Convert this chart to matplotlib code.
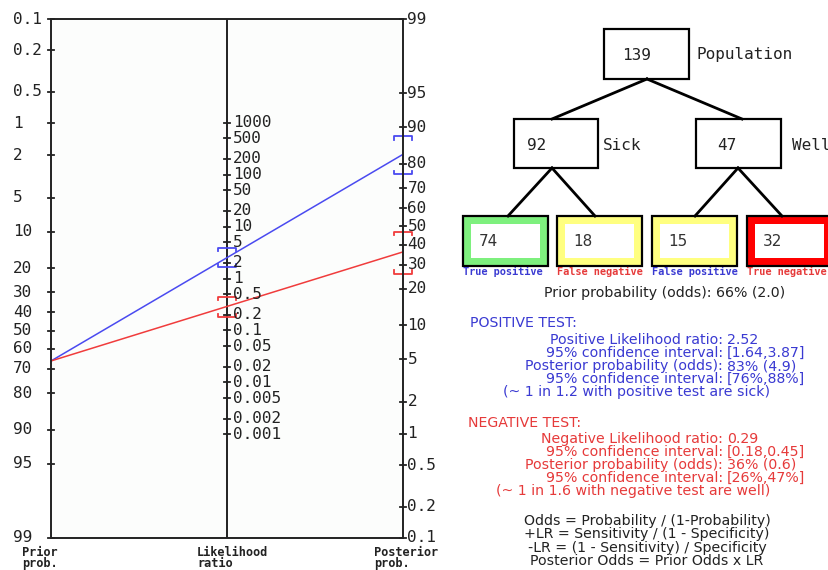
import numpy as np
import matplotlib
matplotlib.use("Agg")
import matplotlib.pyplot as plt
from matplotlib.patches import Rectangle

# ---------------- data ----------------
prob_ticks = [0.1, 0.2, 0.5, 1, 2, 5, 10, 20, 30, 40, 50, 60, 70, 80, 90, 95, 99]
prob_labels = ["0.1", "0.2", "0.5", "1", "2", "5", "10", "20", "30", "40",
               "50", "60", "70", "80", "90", "95", "99"]
lr_ticks = [1000, 500, 200, 100, 50, 20, 10, 5, 2, 1, 0.5, 0.2, 0.1,
            0.05, 0.02, 0.01, 0.005, 0.002, 0.001]
lr_labels = ["1000", "500", "200", "100", "50", "20", "10", "5", "2", "1",
             "0.5", "0.2", "0.1", "0.05", "0.02", "0.01", "0.005", "0.002", "0.001"]

population = 139
sick = 92
well = 47
leaf_counts = [74, 18, 15, 32]
leaf_names = ["True positive", "False negative", "False positive", "True negative"]

lr_pos = 2.52
lr_pos_ci = [1.64, 3.87]
post_pos_ci = [76, 88]
lr_neg = 0.29
lr_neg_ci = [0.18, 0.45]
post_neg_ci = [26, 47]

prior_line = "Prior probability (odds): 66% (2.0)"
pos_header = "POSITIVE TEST:"
pos_keys = ["Positive Likelihood ratio:", "95% confidence interval:",
            "Posterior probability (odds):", "95% confidence interval:"]
pos_vals = ["2.52", "[1.64,3.87]", "83% (4.9)", "[76%,88%]"]
pos_note = "(~ 1 in 1.2 with positive test are sick)"
neg_header = "NEGATIVE TEST:"
neg_keys = ["Negative Likelihood ratio:", "95% confidence interval:",
            "Posterior probability (odds):", "95% confidence interval:"]
neg_vals = ["0.29", "[0.18,0.45]", "36% (0.6)", "[26%,47%]"]
neg_note = "(~ 1 in 1.6 with negative test are well)"
formulas = ["Odds = Probability / (1-Probability)",
            "+LR = Sensitivity / (1 - Specificity)",
            "-LR = (1 - Sensitivity) / Specificity",
            "Posterior Odds = Prior Odds x LR"]

# ---------------- helpers ----------------
def logit(pct):
    p = pct / 100.0
    return np.log(p / (1 - p))

YTOP = logit(0.1)
YBOT = logit(99)
S = YTOP + YBOT           # right axis: y = S - logit(q)

def right_y(pct):
    return S - logit(pct)

def mid_y(lr):
    return (S - np.log(lr)) / 2.0

BLUE_LINE = "#4a4af0"
RED_LINE = "#f03c3c"
BLUE_TXT = "#3a3ad2"
RED_TXT = "#e63a3a"
AXC = "#222222"
MONO = "DejaVu Sans Mono"

fig = plt.figure(figsize=(8.29, 5.70), dpi=100)
fig.patch.set_facecolor("white")

ov = fig.add_axes([0, 0, 1, 1])
ov.set_xlim(0, 829)
ov.set_ylim(570, 0)
ov.axis("off")

# ---------------- nomogram ----------------
ax = fig.add_axes([51 / 829, (570 - 538) / 570, 352 / 829, 519 / 570])
ax.set_xlim(0, 1)
ax.set_ylim(YBOT, YTOP)
ax.set_xticks([])
ax.set_yticks([])
ax.set_facecolor("#fcfdfc")
for sp in ax.spines.values():
    sp.set_color(AXC)
    sp.set_linewidth(1.4)
ax.plot([0.5, 0.5], [YTOP, YBOT], color=AXC, lw=1.4, solid_capstyle="butt")

TFS = 11.5
dx = 3.0 / 352
px_per_unit = 519.0 / (YBOT - YTOP)
for p, lab in zip(prob_ticks, prob_labels):
    y = logit(p)
    ax.plot([-dx, dx], [y, y], color=AXC, lw=1.3, clip_on=False)
    ax.text((13 - 51) / 352, y, lab, ha="left", va="center", family=MONO,
            fontsize=TFS, color=AXC, clip_on=False)
    yr = right_y(p)
    ax.plot([1 - dx, 1 + dx], [yr, yr], color=AXC, lw=1.3, clip_on=False)
    ax.text(1 + 4.5 / 352, yr, lab, ha="left", va="center", family=MONO,
            fontsize=TFS, color=AXC, clip_on=False)

for lr, lab in zip(lr_ticks, lr_labels):
    y = mid_y(lr)
    ax.plot([0.5 - dx, 0.5 + dx], [y, y], color=AXC, lw=1.3)
    ax.text(0.5 + 6 / 352, y, lab, ha="left", va="center", family=MONO,
            fontsize=TFS, color=AXC)

prior_pct = 100.0 * sick / population
prior_odds = sick / well

def post_pct(lr):
    o = prior_odds * lr
    return 100.0 * o / (1 + o)

def bracket(xc, y, up, color):
    hw = 9.0 / 352
    h = 3.2 / px_per_unit
    dy = h if up else -h   # upper bound: hooks point down on screen
    ax.plot([xc - hw, xc - hw, xc + hw, xc + hw], [y + dy, y, y, y + dy],
            color=color, lw=1.3, clip_on=False)

for lr, ci_lr, ci_post, col in [(lr_pos, lr_pos_ci, post_pos_ci, BLUE_LINE),
                                (lr_neg, lr_neg_ci, post_neg_ci, RED_LINE)]:
    ax.plot([0, 1], [logit(prior_pct), right_y(post_pct(lr))], color=col, lw=1.1)
    bracket(0.5, mid_y(ci_lr[1]), True, col)
    bracket(0.5, mid_y(ci_lr[0]), False, col)
    bracket(1.0, right_y(ci_post[1]), True, col)
    bracket(1.0, right_y(ci_post[0]), False, col)

# axis titles under nomogram
for x, t in [(22, "Prior\nprob."), (197, "Likelihood\nratio"), (374, "Posterior\nprob.")]:
    ov.text(x, 546, t, ha="left", va="top", family=MONO, fontsize=8.6,
            fontweight="bold", color=AXC, linespacing=0.78)

# ---------------- tree ----------------
def box(x0, y0, w, h, lw=1.6):
    ov.add_patch(Rectangle((x0, y0), w, h, facecolor="white", edgecolor="black", lw=lw))

LW_TREE = 2.0
ov.plot([647, 552], [79, 119], color="black", lw=LW_TREE)
ov.plot([647, 742], [79, 119], color="black", lw=LW_TREE)
ov.plot([552, 508], [168, 216], color="black", lw=LW_TREE)
ov.plot([552, 595], [168, 216], color="black", lw=LW_TREE)
ov.plot([738, 695], [168, 216], color="black", lw=LW_TREE)
ov.plot([738, 782], [168, 216], color="black", lw=LW_TREE)

box(604, 29, 85, 50)
ov.text(637, 55, str(population), ha="center", va="center", family=MONO,
        fontsize=11.5, color="#222")
ov.text(697, 55, "Population", ha="left", va="center", family=MONO,
        fontsize=11.5, color="#222")

box(514, 119, 84, 49)
ov.text(527, 146, str(sick), ha="left", va="center", family=MONO,
        fontsize=11.5, color="#222")
ov.text(603, 146, "Sick", ha="left", va="center", family=MONO,
        fontsize=11.5, color="#222")

box(696, 119, 85, 49)
ov.text(717, 146, str(well), ha="left", va="center", family=MONO,
        fontsize=11.5, color="#222")
ov.text(792, 146, "Well", ha="left", va="center", family=MONO,
        fontsize=11.5, color="#222")

leaf_x = [463, 557, 652, 747]
leaf_col = ["#7ef07e", "#ffff80", "#ffff80", "#ff0000"]
leaf_txt_col = [BLUE_TXT, RED_TXT, BLUE_TXT, RED_TXT]
for x0, n, name, fc, tc in zip(leaf_x, leaf_counts, leaf_names, leaf_col, leaf_txt_col):
    ov.add_patch(Rectangle((x0, 216), 85, 50, facecolor=fc, edgecolor="black", lw=1.6))
    ov.add_patch(Rectangle((x0 + 8, 224), 69, 34, facecolor="white", edgecolor="none"))
    ov.text(x0 + 16, 241, str(n), ha="left", va="center", family="DejaVu Sans",
            fontsize=11, color="#333")
    ov.text(x0 + 0.5, 272, name, ha="left", va="center", family=MONO,
            fontsize=7.4, fontweight="bold", color=tc)

# ---------------- text block ----------------
FS = 10.2
ov.text(665, 293, prior_line, ha="center", va="center", fontsize=FS, color="#222")

ov.text(470, 323, pos_header, ha="left", va="center", fontsize=FS, color=BLUE_TXT)
ys = [340, 353, 366, 379]
for y, k, v in zip(ys, pos_keys, pos_vals):
    ov.text(723, y, k, ha="right", va="center", fontsize=FS, color=BLUE_TXT)
    ov.text(727, y, v, ha="left", va="center", fontsize=FS, color=BLUE_TXT)
ov.text(637, 392, pos_note, ha="center", va="center", fontsize=FS, color=BLUE_TXT)

ov.text(468, 423, neg_header, ha="left", va="center", fontsize=FS, color=RED_TXT)
ys = [439, 452, 465, 478]
for y, k, v in zip(ys, neg_keys, neg_vals):
    ov.text(723, y, k, ha="right", va="center", fontsize=FS, color=RED_TXT)
    ov.text(727, y, v, ha="left", va="center", fontsize=FS, color=RED_TXT)
ov.text(633, 491, neg_note, ha="center", va="center", fontsize=FS, color=RED_TXT)

for i, f in enumerate(formulas):
    ov.text(647, 521 + 13.3 * i, f, ha="center", va="center", fontsize=FS, color="#222")

fig.savefig("out.png", dpi=100)
